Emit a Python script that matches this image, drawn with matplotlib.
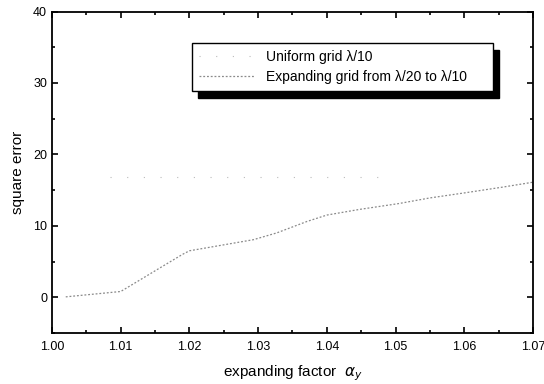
import matplotlib
matplotlib.use("Agg")
import matplotlib.pyplot as plt
from matplotlib.ticker import MultipleLocator

# expanding grid from lambda/20 to lambda/10
alpha_exp = [1.002, 1.010, 1.0126, 1.0157, 1.019, 1.020, 1.0254, 1.0293, 1.0327,
             1.0371, 1.040, 1.0448, 1.0504, 1.055, 1.060, 1.0655, 1.070]
err_exp = [0.05, 0.8, 2.3, 4.1, 6.0, 6.5, 7.4, 8.05, 9.0,
           10.6, 11.5, 12.3, 13.1, 13.9, 14.6, 15.4, 16.1]

# uniform grid lambda/10
alpha_uni = [1.0084, 1.048]
err_uni = [16.85, 16.85]

plt.rcParams['font.family'] = ['Liberation Sans', 'DejaVu Sans']

fig = plt.figure(figsize=(5.44, 3.84), dpi=100)
ax = fig.add_axes([0.0956, 0.133, 0.884, 0.837])

ax.plot(alpha_uni, err_uni, color='#bbbbbb', linestyle=(0, (1, 14)), linewidth=0.8,
        label='Uniform grid λ/10')
ax.plot(alpha_exp, err_exp, color='#8a8a8a', linestyle=(0, (1.5, 1.5)), linewidth=0.9,
        label='Expanding grid from λ/20 to λ/10     ')

ax.set_xlim(1.00, 1.07)
ax.set_ylim(-5, 40)
ax.xaxis.set_major_locator(MultipleLocator(0.01))
ax.xaxis.set_minor_locator(MultipleLocator(0.005))
ax.yaxis.set_major_locator(MultipleLocator(10))
ax.yaxis.set_minor_locator(MultipleLocator(5))
ax.xaxis.set_major_formatter(matplotlib.ticker.FormatStrFormatter('%.2f'))

ax.tick_params(which='both', direction='in', top=True, right=True, width=1.2, labelsize=9)
ax.tick_params(which='major', length=4)
ax.tick_params(which='minor', length=2.5)
ax.tick_params(axis='x', pad=6)
for s in ax.spines.values():
    s.set_linewidth(1.3)

ax.set_xlabel(r'expanding factor  $\alpha_y$', fontsize=11, labelpad=7)
ax.set_ylabel('square error', fontsize=11, labelpad=6)

leg = ax.legend(loc='upper right', bbox_to_anchor=(0.917, 0.902), borderaxespad=0,
                fancybox=False, framealpha=1, edgecolor='black', fontsize=10,
                handlelength=4.0, handletextpad=0.8, borderpad=0.5, labelspacing=0.43,
                shadow={'color': 'black', 'alpha': 1, 'ox': 4, 'oy': -5})
leg.get_frame().set_linewidth(1.0)

fig.savefig('out.png', dpi=100)
